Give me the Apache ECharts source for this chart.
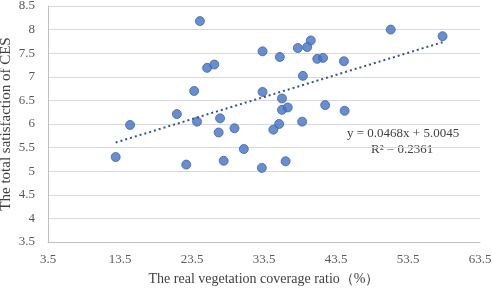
<!DOCTYPE html>
<html>
<head>
<meta charset="utf-8">
<script src="https://cdn.jsdelivr.net/npm/echarts@6/dist/echarts.min.js"></script>
<style>
  html, body { margin: 0; padding: 0; background: #fff; }
  #chart { width: 492px; height: 289px; }
</style>
</head>
<body>
<div id="chart"></div>
<script>
// vegetation coverage ratio (%) and total CES satisfaction
const coverage = [
  24.6, 25.6, 26.6, 23.8, 21.4, 24.2, 27.4, 27.2, 29.4, 14.9, 30.7,
  12.9, 22.7, 27.9,
  51.1, 58.3, 33.3, 35.7, 38.2, 40.0, 39.5, 40.9, 41.7, 44.6, 38.9,
  33.3, 36.0, 36.0, 36.8, 42.0, 44.7, 38.8, 35.6, 34.8,
  33.2, 36.5
];
const satisfaction = [
  8.18, 7.19, 7.26, 6.70, 6.21, 6.05, 6.12, 5.82, 5.91, 5.98, 5.47,
  5.30, 5.14, 5.22,
  8.00, 7.86, 7.54, 7.42, 7.61, 7.77, 7.63, 7.38, 7.40, 7.33, 7.02,
  6.68, 6.54, 6.30, 6.35, 6.40, 6.28, 6.05, 6.00, 5.88,
  5.07, 5.21
];
const slope = 0.0468;
const intercept = 5.0045;
const rSquared = 0.2361;
const xTicks = [3.5, 13.5, 23.5, 33.5, 43.5, 53.5, 63.5];

const points = coverage.map((x, i) => [x, satisfaction[i]]);
const xLo = Math.min(...coverage), xHi = Math.max(...coverage);
const trend = [[xLo, slope * xLo + intercept], [xHi, slope * xHi + intercept]];

const FONT = '"Liberation Serif", "Times New Roman", serif';
const chart = echarts.init(document.getElementById('chart'));
chart.setOption({
  animation: false,
  grid: { left: 48, right: 12, top: 6, bottom: 47, outerBoundsMode: 'none' },
  xAxis: {
    type: 'value', min: 3.5, max: 63.5,
    name: 'The real vegetation coverage ratio（%）',
    nameLocation: 'middle', nameGap: 30,
    nameTextStyle: { fontFamily: FONT, fontSize: 14, color: '#404040' },
    axisLine: { show: true, lineStyle: { color: '#bfbfbf' } },
    axisTick: { show: false },
    splitLine: { show: false },
    axisLabel: { customValues: xTicks, formatter: v => v.toFixed(1),
      fontFamily: FONT, fontSize: 13, color: '#595959', margin: 11 }
  },
  yAxis: {
    type: 'value', min: 3.5, max: 8.5, interval: 0.5,
    name: 'The total satisfaction of CES',
    nameLocation: 'middle', nameGap: 34, nameMoveOverlap: false,
    nameTextStyle: { fontFamily: FONT, fontSize: 15, color: '#404040' },
    axisLine: { show: true, lineStyle: { color: '#bfbfbf' } },
    axisTick: { show: false },
    splitLine: { lineStyle: { color: '#d9d9d9' } },
    axisLabel: { fontFamily: FONT, fontSize: 13, color: '#595959', margin: 13 }
  },
  graphic: [
    { type: 'text', left: 347, top: 127, style: { text: 'y = ' + slope + 'x + ' + intercept,
      font: '13px ' + FONT, fill: '#404040' } },
    { type: 'text', left: 371, top: 143, style: { text: 'R² = ' + rSquared,
      font: '13px ' + FONT, fill: '#404040' } }
  ],
  series: [
    {
      type: 'line', data: trend, symbol: 'none', silent: true,
      lineStyle: { color: '#2f5597', width: 2, type: [2, 3] }
    },
    {
      type: 'scatter', data: points, symbolSize: 9,
      itemStyle: { color: '#4472c4', borderColor: '#3b65b0', borderWidth: 1 }
    }
  ]
});
</script>
</body>
</html>
